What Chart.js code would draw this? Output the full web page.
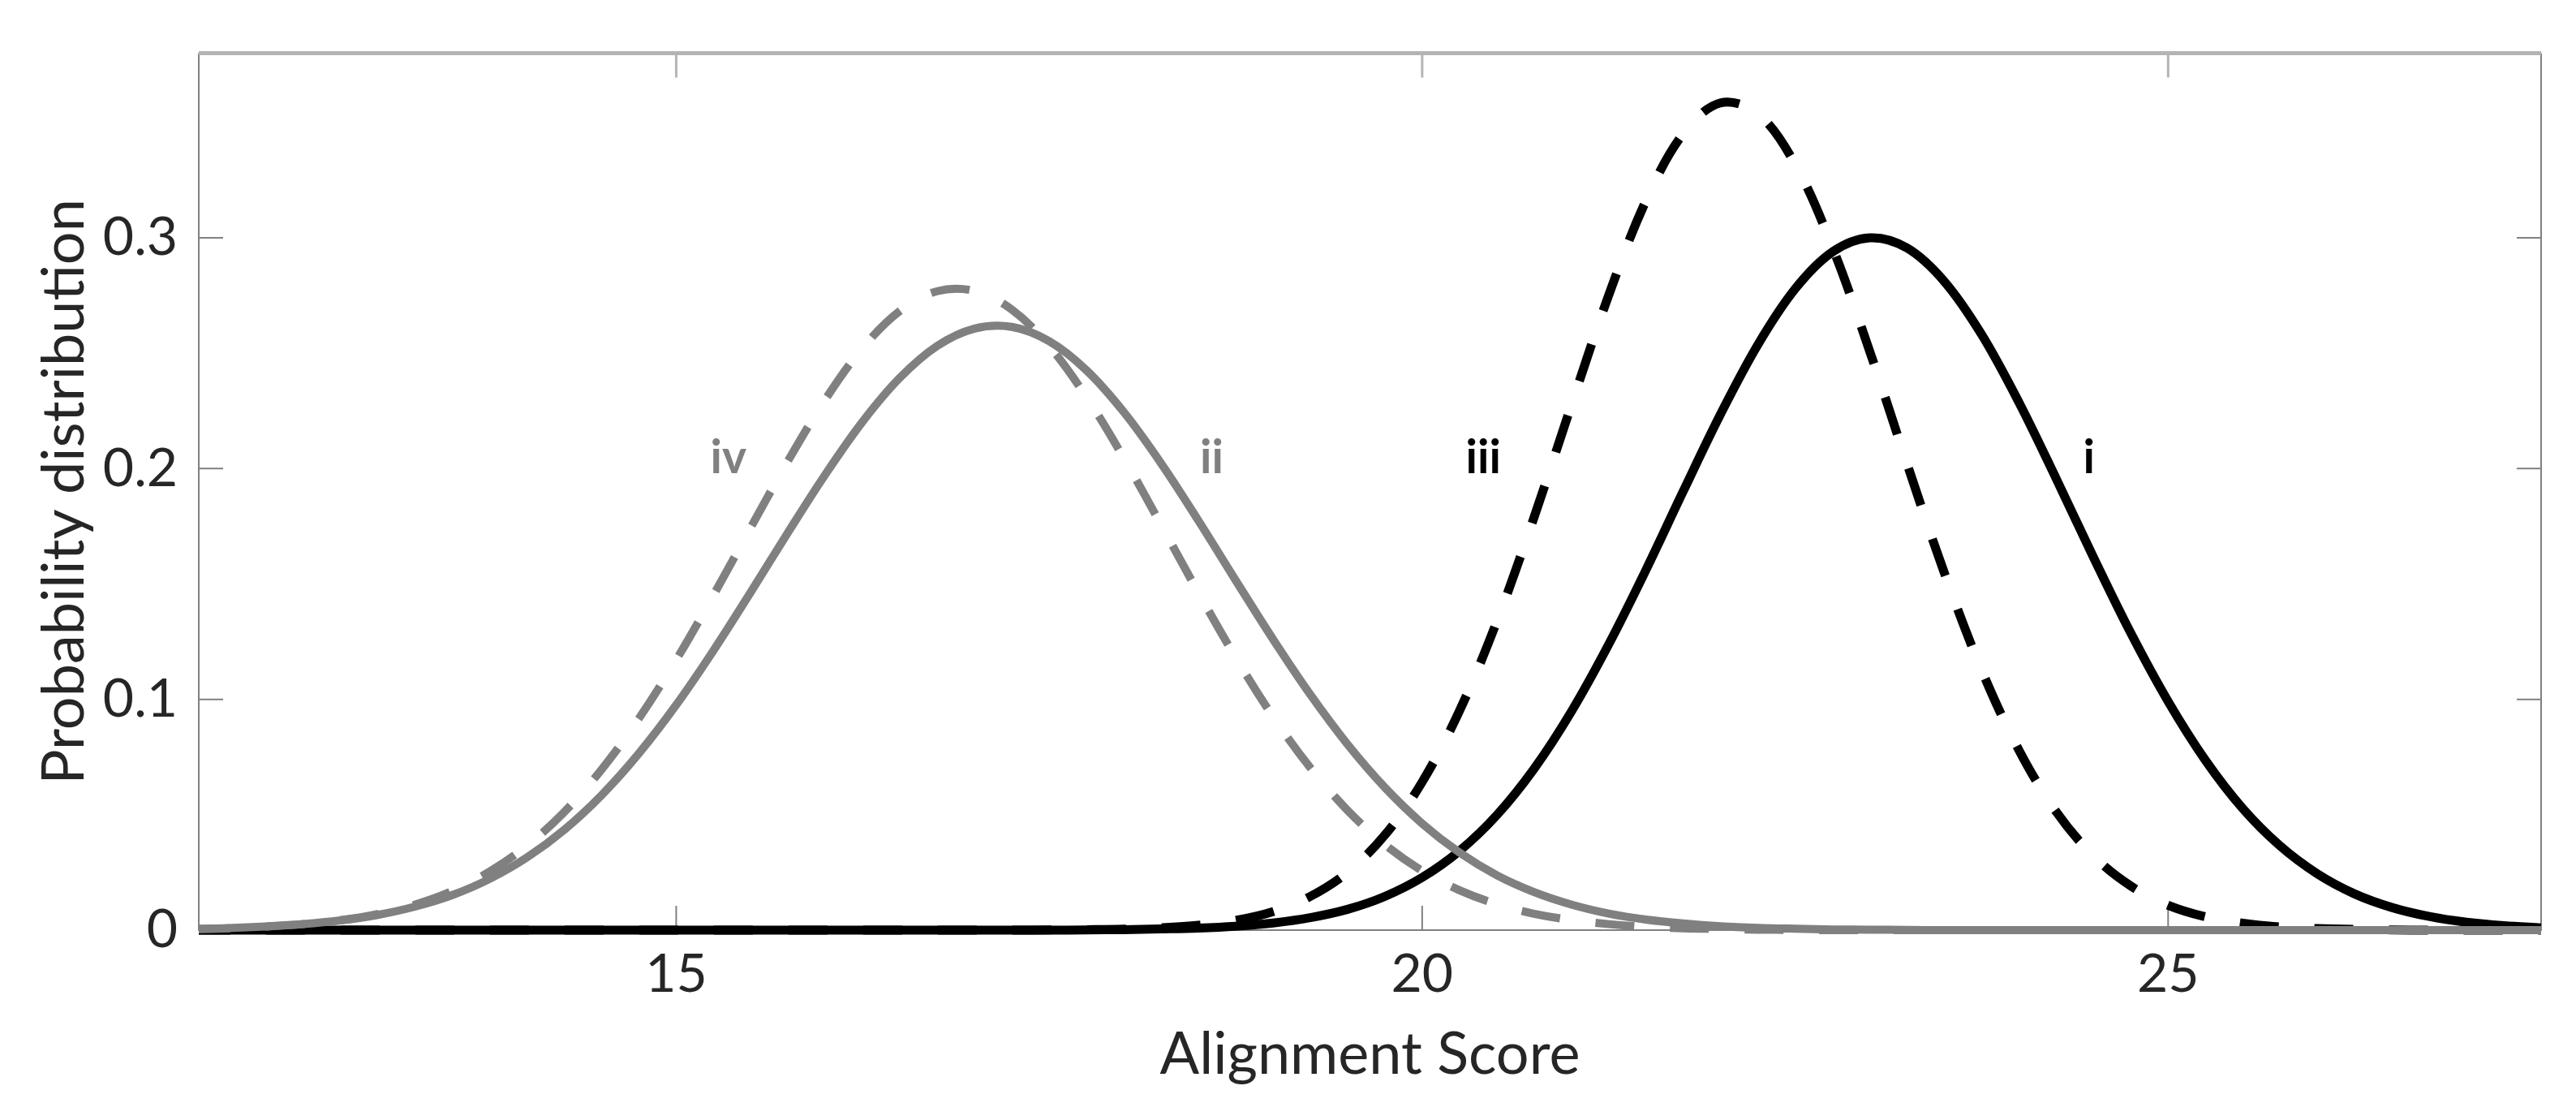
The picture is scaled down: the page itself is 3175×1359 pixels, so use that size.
<!DOCTYPE html>
<html>
<head>
<meta charset="utf-8">
<title>Alignment score distributions</title>
<script src="https://cdn.jsdelivr.net/npm/chart.js@4/dist/chart.umd.min.js"></script>
<style>
  html, body { margin: 0; padding: 0; background: #fff; }
  canvas { display: block; }
</style>
</head>
<body>
<canvas id="chart" width="3175" height="1359"></canvas>
<script>
// alignment score (x) sampled every 0.25
const scores = [
  11.75, 12, 12.25, 12.5, 12.75, 13, 13.25, 13.5,
  13.75, 14, 14.25, 14.5, 14.75, 15, 15.25, 15.5,
  15.75, 16, 16.25, 16.5, 16.75, 17, 17.25, 17.5,
  17.75, 18, 18.25, 18.5, 18.75, 19, 19.25, 19.5,
  19.75, 20, 20.25, 20.5, 20.75, 21, 21.25, 21.5,
  21.75, 22, 22.25, 22.5, 22.75, 23, 23.25, 23.5,
  23.75, 24, 24.25, 24.5, 24.75, 25, 25.25, 25.5,
  25.75, 26, 26.25, 26.5, 26.75, 27, 27.25, 27.5
];

// i - black solid
const curveI = [
  0, 0, 0, 0, 0, 0, 0, 0,
  0, 0, 0, 0, 0, 0, 0, 0,
  0, 0, 0, 0, 0, 0, 0, 0,
  0.0001, 0.0002, 0.0005, 0.0009, 0.0017, 0.0031, 0.0054, 0.0090,
  0.0146, 0.0228, 0.0343, 0.0498, 0.0699, 0.0947, 0.1238, 0.1561,
  0.1902, 0.2236, 0.2537, 0.2779, 0.2939, 0.3000, 0.2956, 0.2811,
  0.2581, 0.2287, 0.1956, 0.1615, 0.1287, 0.0991, 0.0736, 0.0527,
  0.0365, 0.0244, 0.0157, 0.0098, 0.0059, 0.0034, 0.0019, 0.0010
];

// ii - grey solid
const curveII = [
  0.0005, 0.0009, 0.0016, 0.0026, 0.0042, 0.0066, 0.0102, 0.0152,
  0.0222, 0.0315, 0.0435, 0.0585, 0.0766, 0.0976, 0.1212, 0.1465,
  0.1724, 0.1975, 0.2204, 0.2394, 0.2532, 0.2607, 0.2614, 0.2552,
  0.2426, 0.2245, 0.2023, 0.1775, 0.1516, 0.1261, 0.1021, 0.0805,
  0.0618, 0.0462, 0.0336, 0.0238, 0.0165, 0.0111, 0.0072, 0.0046,
  0.0029, 0.0017, 0.0010, 0.0006, 0.0003, 0.0002, 0.0001, 0,
  0, 0, 0, 0, 0, 0, 0, 0,
  0, 0, 0, 0, 0, 0, 0, 0
];

// iii - black dashed
const curveIII = [
  0, 0, 0, 0, 0, 0, 0, 0,
  0, 0, 0, 0, 0, 0, 0, 0,
  0, 0, 0, 0, 0, 0, 0, 0.0001,
  0.0002, 0.0004, 0.0010, 0.0021, 0.0042, 0.0080, 0.0146, 0.0251,
  0.0412, 0.0642, 0.0950, 0.1337, 0.1789, 0.2275, 0.2751, 0.3161,
  0.3452, 0.3585, 0.3538, 0.3319, 0.2959, 0.2508, 0.2021, 0.1548,
  0.1127, 0.0780, 0.0513, 0.0321, 0.0191, 0.0108, 0.0058, 0.0030,
  0.0014, 0.0007, 0.0003, 0.0001, 0, 0, 0, 0
];

// iv - grey dashed
const curveIV = [
  0.0004, 0.0008, 0.0015, 0.0026, 0.0043, 0.0070, 0.0111, 0.0170,
  0.0254, 0.0366, 0.0512, 0.0696, 0.0917, 0.1171, 0.1452, 0.1745,
  0.2034, 0.2300, 0.2523, 0.2684, 0.2769, 0.2770, 0.2689, 0.2531,
  0.2310, 0.2046, 0.1757, 0.1463, 0.1182, 0.0926, 0.0704, 0.0519,
  0.0371, 0.0257, 0.0173, 0.0113, 0.0071, 0.0044, 0.0026, 0.0015,
  0.0008, 0.0005, 0.0002, 0.0001, 0, 0, 0, 0,
  0, 0, 0, 0, 0, 0, 0, 0,
  0, 0, 0, 0, 0, 0, 0, 0
];

const xTicks = [15, 20, 25];
const yTicks = [0, 0.1, 0.2, 0.3];

// curve tags written inside the plot, in data coordinates
const tagNames = ['i', 'ii', 'iii', 'iv'];
const tagX = [24.47, 18.59, 20.41, 15.35];
const tagY = [0.198, 0.198, 0.198, 0.198];

const BLACK = '#000000';
const GREY = '#808080';
const TEXT = '#262626';
const FONT = 'Lato, "Open Sans", sans-serif';
const tagColors = [BLACK, GREY, BLACK, GREY];

function series(label, values, color, dash, width, order) {
    return {
        label,
        data: scores.map((x, i) => ({ x, y: values[i] })),
        borderColor: color,
        borderWidth: width,
        borderDash: dash,
        pointRadius: 0,
        fill: false,
        tension: 0.35,
        clip: { left: 0, right: 0, top: false, bottom: false },
        order
    };
}

// matlab style box with inward ticks, plus axis titles and curve tags
const framePlugin = {
    id: 'frame',
    beforeDatasetsDraw(chart) {
        const { ctx, chartArea: a, scales: { x, y } } = chart;
        ctx.save();
        ctx.lineCap = 'butt';

        ctx.strokeStyle = '#808080';
        ctx.lineWidth = 2;
        ctx.beginPath();
        x.ticks.forEach(t => {
            const px = x.getPixelForValue(t.value);
            ctx.moveTo(px, a.bottom);
            ctx.lineTo(px, a.bottom - 30);
        });
        y.ticks.forEach(t => {
            const py = y.getPixelForValue(t.value);
            ctx.moveTo(a.left, py);
            ctx.lineTo(a.left + 30, py);
            ctx.moveTo(a.right, py);
            ctx.lineTo(a.right - 30, py);
        });
        ctx.moveTo(a.left, a.top);
        ctx.lineTo(a.left, a.bottom);
        ctx.lineTo(a.right, a.bottom);
        ctx.lineTo(a.right, a.top);
        ctx.stroke();

        // top edge is drawn lighter in the original
        ctx.strokeStyle = '#b4b4b4';
        ctx.lineWidth = 3;
        ctx.beginPath();
        x.ticks.forEach(t => {
            const px = x.getPixelForValue(t.value);
            ctx.moveTo(px, a.top);
            ctx.lineTo(px, a.top + 30);
        });
        ctx.stroke();
        ctx.lineWidth = 5;
        ctx.beginPath();
        ctx.moveTo(a.left, a.top);
        ctx.lineTo(a.right, a.top);
        ctx.stroke();
        ctx.restore();
    },
    afterDatasetsDraw(chart) {
        const { ctx, chartArea: a, scales: { x, y } } = chart;
        ctx.save();

        ctx.font = 'bold 57px ' + FONT;
        ctx.textAlign = 'center';
        ctx.textBaseline = 'alphabetic';
        tagNames.forEach((name, i) => {
            ctx.fillStyle = tagColors[i];
            ctx.fillText(name, x.getPixelForValue(tagX[i]), y.getPixelForValue(tagY[i]));
        });

        ctx.fillStyle = TEXT;
        ctx.font = '72px ' + FONT;
        ctx.fillText('Alignment Score', (a.left + a.right) / 2, a.bottom + 177);

        ctx.translate(a.left - 142, (a.top + a.bottom) / 2);
        ctx.rotate(-Math.PI / 2);
        ctx.fillText('Probability distribution', 0, 0);
        ctx.restore();
    }
};

new Chart(document.getElementById('chart'), {
    type: 'line',
    data: {
        datasets: [
            series('iii', curveIII, BLACK, [48, 44], 11, 4),
            series('i', curveI, BLACK, [], 11, 3),
            series('iv', curveIV, GREY, [48, 44], 10, 2),
            series('ii', curveII, GREY, [], 10, 1)
        ]
    },
    options: {
        responsive: false,
        animation: false,
        devicePixelRatio: 1,
        layout: { padding: { top: 38, right: 43, left: 0, bottom: 0 } },
        plugins: {
            legend: { display: false },
            tooltip: { enabled: false }
        },
        scales: {
            x: {
                type: 'linear',
                min: 11.8,
                max: 27.5,
                grid: { display: false, drawTicks: false },
                border: { display: false },
                afterBuildTicks: s => { s.ticks = xTicks.map(v => ({ value: v })); },
                afterFit: s => { s.height = 213; },
                ticks: {
                    padding: 15,
                    maxRotation: 0,
                    autoSkip: false,
                    color: TEXT,
                    font: { family: FONT, size: 66 },
                    callback: v => String(v)
                }
            },
            y: {
                type: 'linear',
                min: 0,
                max: 0.38,
                grid: { display: false, drawTicks: false },
                border: { display: false },
                afterBuildTicks: s => { s.ticks = yTicks.map(v => ({ value: v })); },
                afterFit: s => { s.width = 245; },
                ticks: {
                    padding: 26,
                    color: TEXT,
                    font: { family: FONT, size: 66 },
                    callback: v => String(v)
                }
            }
        }
    },
    plugins: [framePlugin]
});
</script>
</body>
</html>
